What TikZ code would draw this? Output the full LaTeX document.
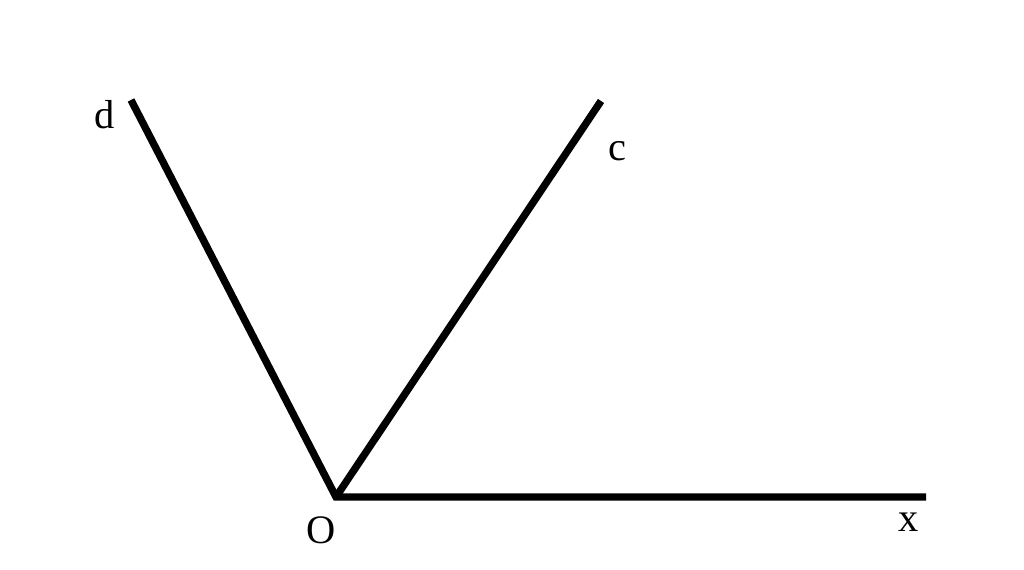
\documentclass[tikz,border=0pt]{standalone}
\usepackage{fontspec}
\setmainfont{Liberation Serif}
\begin{document}
\begin{tikzpicture}[x=0.01cm,y=0.01cm]
      \tikzset{ray/.style={line width=2.1pt,line join=miter},
        lbl/.style={font=\fontsize{11.5}{14}\selectfont,inner sep=0pt}}
      % frame
      \useasboundingbox (0,0) rectangle (1024,570);
      % the points
      \coordinate (O) at (336,73);
      \coordinate (D) at (131,470);
      \coordinate (C) at (601,469);
      \coordinate (X) at (926,73);
      % the rays
      \draw[ray] (D) -- (O) -- (X);
      \draw[ray] (O) -- (C);
      % labels
      \node[lbl] (lO) at (321,40) {O};
      \node[lbl] (ld) at (105,455) {d};
      \node[lbl] (lc) at (617,419) {c};
      \node[lbl] (lx) at (909,48) {x};
    \end{tikzpicture}
\end{document}
